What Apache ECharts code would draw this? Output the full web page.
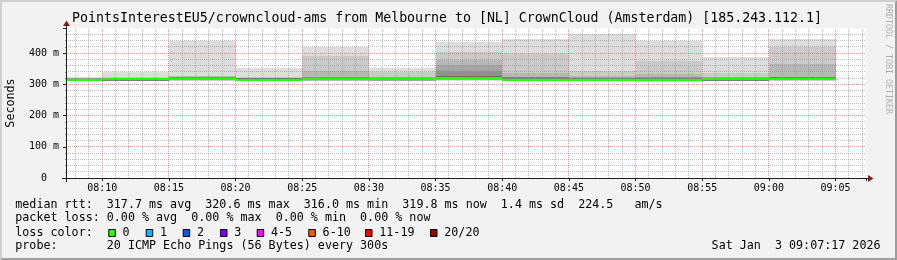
<!DOCTYPE html>
<html><head><meta charset="utf-8">
<script src="https://cdn.jsdelivr.net/npm/echarts@6.0.0/dist/echarts.min.js"></script>
<style>html,body{margin:0;padding:0;background:#f2f2f2}#c{width:897px;height:260px}</style>
</head><body><div id="c"></div>
<script>
// ---------------- data ----------------
const titleText = 'PointsInterestEU5/crowncloud-ams from Melbourne to [NL] CrownCloud (Amsterdam) [185.243.112.1]';
const windowStart = '08:07:17';
const windowEnd = '09:07:17';
const stepMinutes = 5;
const endTimes = ['08:10','08:15','08:20','08:25','08:30','08:35','08:40','08:45','08:50','08:55','09:00','09:05'];
const medianRtt = [316.5, 317.5, 318.0, 316.8, 316.9, 318.5, 320.6, 316.4, 316.6, 316.0, 318.3, 319.8];
const lossCount = [0,0,0,0,0,0,0,0,0,0,0,0];
// 20 sorted ping times (ms) per step, read from the smoke
const pings = [
  [310,313,314.5,315,315.5,316,316.2,316.4,316.6,316.8,317,317.2,317.4,317.6,317.8,318,318.5,319,320,324],
  [309,310,310.5,311,311.5,312,312.5,313,314,315,316,317,318,318.5,319,319.5,320,321,323,340],
  [310,312,313,314,315,316,316.5,317,317.5,318,318.5,319,319.5,320,321,323,324,325,326,439],
  [309,311,312,313,314,314.5,315,315.5,316,316.5,317,317.5,318,318.5,319,319.5,320,321,322,353],
  [309,311,312,313,314,315,315.5,316,316.5,317,317.5,318,318.5,319,320,322,324,343,389,418],
  [309,310,311,312,313,314,314.5,315,315.5,316,317,318,319,319.5,320,321,322,324,339,352],
  [311,313,314,315,316,317,318,319,320,320.5,321,322,323,325,328,344,362,378,404,434],
  [309,310,311,312,313,314,314.5,315,315.5,316,316.5,317,317.5,318,322,323,324,336,397,446],
  [309,310,311,312,313,314,314.5,315,315.5,316,316.5,317,317.5,318,320,321,323,326,343,462],
  [308,309,310,311,312,313,313.5,314,314.5,315,315.5,316,316.5,317,321,322,323,334,373,437],
  [309,310,310.5,311,311.5,312,312.5,313,314,315,316,317,318,319,320,321,322,323,337,388],
  [311,312,313,314,315,316,317,318,318.5,319,319.5,320,320.5,321,322,323,324,366,420,446]
];
const yMin = 0;
const yMax = 480;
const yTickStep = 100;
const yMinorStep = 20;
const xMajorMinutes = 5;
const xMinorMinutes = 1;
const rttStats = [317.7, 320.6, 316.0, 319.8];   // avg, max, min, now
const rttSd = 1.4;
const rttAmS = 224.5;
const lossStats = [0.00, 0.00, 0.00, 0.00];      // avg, max, min, now
const lossLegend = ['0','1','2','3','4-5','6-10','11-19','20/20'];
const lossColors = ['#26ff00','#00b8ff','#0059ff','#7e00ff','#ff00ff','#ff5500','#ff0000','#a10000'];
const probeText = '20 ICMP Echo Pings (56 Bytes) every 300s';
const stampText = 'Sat Jan  3 09:07:17 2026';

// ---------------- helpers ----------------
function toMin(s){ const a = s.split(':').map(Number); return (a[0]-8)*60 + a[1] + (a[2]||0)/60; }
function fmtTime(v){ const t = Math.round(v); const h = 8 + Math.floor(t/60), m = t%60; return String(h).padStart(2,'0')+':'+String(m).padStart(2,'0'); }
function lossIdx(n){ if(n<=3) return n; if(n<=5) return 4; if(n<=10) return 5; if(n<=19) return 6; return 7; }
const MONO = '"DejaVu Sans Mono", monospace';
const shade = i => { const c = Math.floor(190/10*(10-(i+1)))+50; return 'rgb('+c+','+c+','+c+')'; };
const xMin = toMin(windowStart), xMax = toMin(windowEnd);
const MINOR_COL = 'rgba(143,143,143,0.6)';
const MAJOR_COL = 'rgba(222,79,79,0.6)';

const smokeData = [];
const medianData = [];
endTimes.forEach((t,k)=>{
  const end = toMin(t), start = end - stepMinutes;
  const p = pings[k];
  for (let i=0;i<p.length/2;i++) smokeData.push([start,end,p[i],p[p.length-1-i],i]);
  medianData.push([start,end,medianRtt[k],lossIdx(lossCount[k])]);
});

// grid line positions
const vMinor = [], vMajor = [], hMinor = [], hMajor = [];
for (let m=Math.ceil(xMin); m<=Math.floor(xMax); m+=xMinorMinutes) ((m % xMajorMinutes)===0 ? vMajor : vMinor).push([m, yMin]);
for (let v=yMin+yMinorStep; v<yMax; v+=yMinorStep) ((v % yTickStep)===0 ? hMajor : hMinor).push([xMin, v]);

function clipTo(params, r){
  return echarts.graphic.clipRectByRect(r, {x:params.coordSys.x,y:params.coordSys.y,width:params.coordSys.width,height:params.coordSys.height});
}
function gridSeries(data, vertical, color, z){
  return {type:'custom', z:z, data:data, silent:true,
    renderItem:(params,api)=>{
      const cs = params.coordSys;
      const p = api.coord([api.value(0), api.value(1)]);
      let shape;
      if (vertical) { const x = Math.floor(p[0])+0.5; shape = {x1:x, y1:cs.y+cs.height, x2:x, y2:cs.y}; }
      else { const y = Math.floor(p[1])+0.5; shape = {x1:cs.x, y1:y, x2:cs.x+cs.width, y2:y}; }
      return {type:'line', shape:shape, style:{stroke:color, lineWidth:1, lineDash:[1,1], fill:null}};
    }};
}

const f1 = v => v.toFixed(1), f2 = v => v.toFixed(2);
const row1 = 'median rtt:  '+f1(rttStats[0])+' ms avg  '+f1(rttStats[1])+' ms max  '+f1(rttStats[2])+' ms min  '+f1(rttStats[3])+' ms now  '+f1(rttSd)+' ms sd  '+f1(rttAmS)+'   am/s';
const row2 = 'packet loss: '+f2(lossStats[0])+' % avg  '+f2(lossStats[1])+' % max  '+f2(lossStats[2])+' % min  '+f2(lossStats[3])+' % now';
const row4 = 'probe:       '+probeText;

const txt = (x,y,s,size,extra) => ({type:'text', x:x, y:y, z:30, style:Object.assign({text:s, fill:'#000', font:size+'px '+MONO, textAlign:'left', textVerticalAlign:'middle', verticalAlign:'middle'}, extra||{})});

const boxX = [108.3,145.7,182.7,220,256.7,308.3,365,430];
const legendEls = [];
lossLegend.forEach((lab,i)=>{
  legendEls.push({type:'rect', z:30, shape:{x:boxX[i]+0.5,y:229.5,width:6.5,height:7}, style:{fill:lossColors[i],stroke:'#000',lineWidth:1}});
  legendEls.push(txt(boxX[i]+14.3, 233, lab, 11.7));
});

const axisCommon = {
  axisLine:{show:false},
  axisTick:{show:true, length:3, lineStyle:{color:'#1f1f1f'}},
  minorTick:{show:true, splitNumber:5, length:1, lineStyle:{color:'#8f8f8f'}},
  splitLine:{show:false}, minorSplitLine:{show:false}
};

const option = {
  backgroundColor:'#f2f2f2',
  animation:false,
  grid:{left:66, top:28, width:800, height:150, show:true, backgroundColor:'#ffffff', borderWidth:0},
  xAxis:Object.assign({
    type:'value', min:xMin, max:xMax, splitNumber:12,
    axisLabel:{formatter:fmtTime, fontFamily:MONO, fontSize:10, color:'#000', margin:5, showMinLabel:false, showMaxLabel:false}
  }, axisCommon),
  yAxis:Object.assign({
    type:'value', min:yMin, max:yMax, interval:yTickStep,
    axisLabel:{formatter:v=> v===0 ? '0  ' : v+' m', fontFamily:MONO, fontSize:10, color:'#000', margin:7, showMaxLabel:false}
  }, axisCommon),
  series:[
    {type:'custom', z:2, data:smokeData, silent:true,
     renderItem:(params,api)=>{
       const a = api.coord([api.value(0), api.value(3)]);
       const b = api.coord([api.value(1), api.value(2)]);
       const x0 = Math.round(a[0]), x1 = Math.round(b[0]);
       const y0 = Math.round(a[1]), y1 = Math.round(b[1]);
       if (y1 - y0 <= 0) return null;
       const r = clipTo(params,{x:x0,y:y0,width:x1-x0,height:y1-y0});
       if(!r) return null;
       return {type:'rect', shape:r, style:{fill:shade(api.value(4))}};
     }},
    gridSeries(hMinor, false, MINOR_COL, 4),
    gridSeries(vMinor, true, MINOR_COL, 4),
    gridSeries(hMajor, false, MAJOR_COL, 5),
    gridSeries(vMajor, true, MAJOR_COL, 5),
    {type:'custom', z:8, data:medianData, silent:true,
     renderItem:(params,api)=>{
       const a = api.coord([api.value(0), api.value(2)]);
       const b = api.coord([api.value(1), api.value(2)]);
       const x0 = Math.round(a[0]), x1 = Math.round(b[0]);
       const yc = Math.floor(a[1]);
       const r = clipTo(params,{x:x0,y:yc,width:x1-x0,height:2});
       if(!r) return null;
       return {type:'rect', shape:r, style:{fill:lossColors[api.value(3)]}};
     }}
  ],
  graphic:[
    {type:'polygon', z:1, shape:{points:[[0,0],[897,0],[895,2],[2,2],[2,258],[0,260]]}, style:{fill:'#cfcfcf'}},
    {type:'polygon', z:1, shape:{points:[[0,260],[897,260],[897,0],[895,2],[895,258],[2,258]]}, style:{fill:'#9e9e9e'}},
    {type:'line', z:30, shape:{x1:62,y1:178.5,x2:870,y2:178.5}, style:{stroke:'#1f1f1f',lineWidth:1}},
    {type:'line', z:30, shape:{x1:66.5,y1:182,x2:66.5,y2:24}, style:{stroke:'#1f1f1f',lineWidth:1}},
    {type:'polygon', z:31, shape:{points:[[868,175],[868,182],[873.5,178.5]]}, style:{fill:'#801f1f'}},
    {type:'polygon', z:31, shape:{points:[[63,26],[70,26],[66.5,20.5]]}, style:{fill:'#801f1f'}},
    txt(447, 18.7, titleText, 13.25, {textAlign:'center'}),
    Object.assign(txt(11.2, 103, 'Seconds', 11.7, {textAlign:'center'}), {rotation:Math.PI/2}),
    Object.assign(txt(888, 4, 'RRDTOOL / TOBI OETIKER', 8.3, {textAlign:'left', fill:'#b0b0b0'}), {rotation:-Math.PI/2}),
    txt(15.3, 204.5, row1, 11.7),
    txt(15.3, 218, row2, 11.7),
    txt(15.3, 233, 'loss color:', 11.7),
    txt(15.3, 246, row4, 11.7),
    txt(880.5, 246, stampText, 11.7, {textAlign:'right'})
  ].concat(legendEls)
};
const chart = echarts.init(document.getElementById('c'), null, {renderer:'canvas'});
chart.setOption(option);
</script>
</body></html>
